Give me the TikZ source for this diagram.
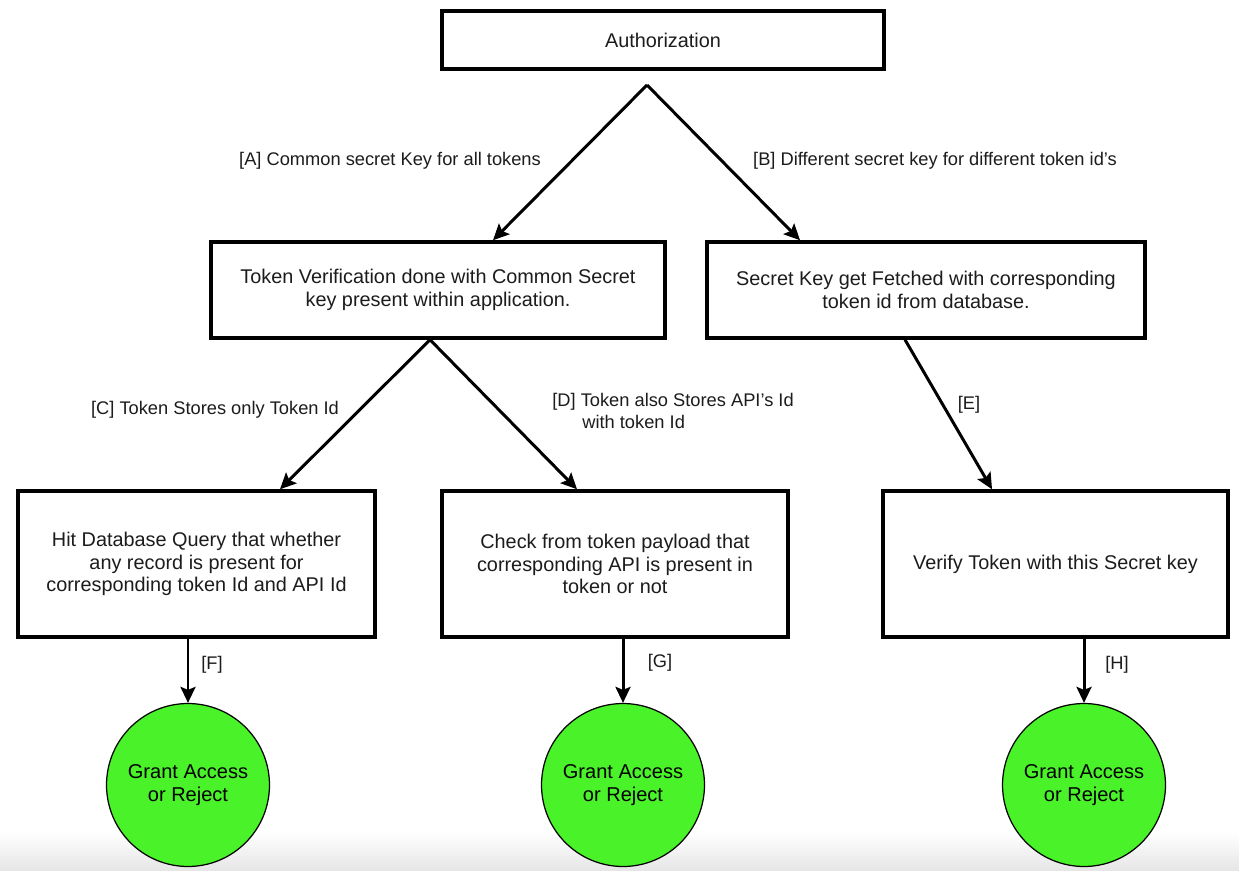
\documentclass[tikz,border=0pt]{standalone}
\usepackage{fontspec}
\setmainfont{Liberation Sans}
\usetikzlibrary{arrows.meta}
\definecolor{grantgreen}{RGB}{74,242,42}
\definecolor{inkgray}{RGB}{28,28,28}
\begin{document}
\begin{tikzpicture}[x=0.02cm, y=-0.02cm,
  box/.style={draw=black, line width=2pt, fill=white, align=center,
    inner sep=0pt, text=inkgray, font=\fontsize{11.3}{12.7}\selectfont},
  decision/.style={circle, draw=black, line width=0.7pt, fill=grantgreen,
    minimum size=3.26cm, inner sep=0pt, align=center, text=black,
    font=\fontsize{11.4}{12.9}\selectfont},
  flow/.style={line width=1.7pt, -{Stealth[length=0.32cm, width=0.3cm, inset=0.06cm]}},
  lbl/.style={text=inkgray, inner sep=0pt, font=\fontsize{10.4}{12.2}\selectfont}]

\useasboundingbox (0,0) rectangle (1239,871);
\fill[white] (0,0) rectangle (1239,871);
\shade[top color=white, bottom color=black!10] (0,832) rectangle (1239,871);

% boxes
\node[box, minimum width=8.84cm, minimum height=1.16cm] (auth) at (663,40) {Authorization};
\node[box, minimum width=9.08cm, minimum height=1.92cm] (tv) at (438,290)
  {Token Verification done with Common Secret\\key present within application.};
\node[box, minimum width=8.76cm, minimum height=1.92cm] (sk) at (926,290)
  {Secret Key get Fetched with corresponding\\token id from database.};
\node[box, minimum width=7.14cm, minimum height=2.92cm] (hit) at (196.5,564)
  {Hit Database Query that whether\\any record is present for\\corresponding token Id and API Id};
\node[box, minimum width=6.92cm, minimum height=2.92cm] (chk) at (615,564)
  {Check from token payload that\\corresponding API is present in\\token or not};
\node[box, minimum width=6.9cm, minimum height=2.92cm] (ver) at (1055.5,564)
  {Verify Token with this Secret key};

% outcomes
\node[decision] (g1) at (188,785) {Grant Access\\or Reject};
\node[decision] (g2) at (623,785) {Grant Access\\or Reject};
\node[decision] (g3) at (1084,785) {Grant Access\\or Reject};

% branch point under the top box
\coordinate (split) at (647,85);

% connectors
\draw[flow] (split) -- ([xshift=1.1cm]tv.north);
\draw[flow] (split) -- ([xshift=-2.52cm]sk.north);
\draw[flow] ([xshift=-0.16cm]tv.south) -- ([xshift=1.67cm]hit.north);
\draw[flow] ([xshift=-0.16cm]tv.south) -- ([xshift=-0.76cm]chk.north);
\draw[flow] ([xshift=-0.42cm]sk.south) -- ([xshift=-1.27cm]ver.north);
\draw[flow] (g1 |- hit.south) -- (g1.north);
\draw[flow] (g2 |- chk.south) -- (g2.north);
\draw[flow] (g3 |- ver.south) -- (g3.north);

% connector labels
\node[lbl] (la) at (390,161) {[A] Common secret Key for all tokens};
\node[lbl] (lb) at (935,161) {[B] Different secret key for different token id’s};
\node[lbl] (lc) at (215,410) {[C] Token Stores only Token Id};
\node[lbl, anchor=west, align=left] (ld) at (552,411)
  {[D] Token also Stores API’s Id\\\hspace*{0.6cm}with token Id};
\node[lbl] (le) at (969,405) {[E]};
\node[lbl] (lf) at (212,665) {[F]};
\node[lbl] (lg) at (660,663) {[G]};
\node[lbl] (lh) at (1117,665) {[H]};
\end{tikzpicture}
\end{document}
